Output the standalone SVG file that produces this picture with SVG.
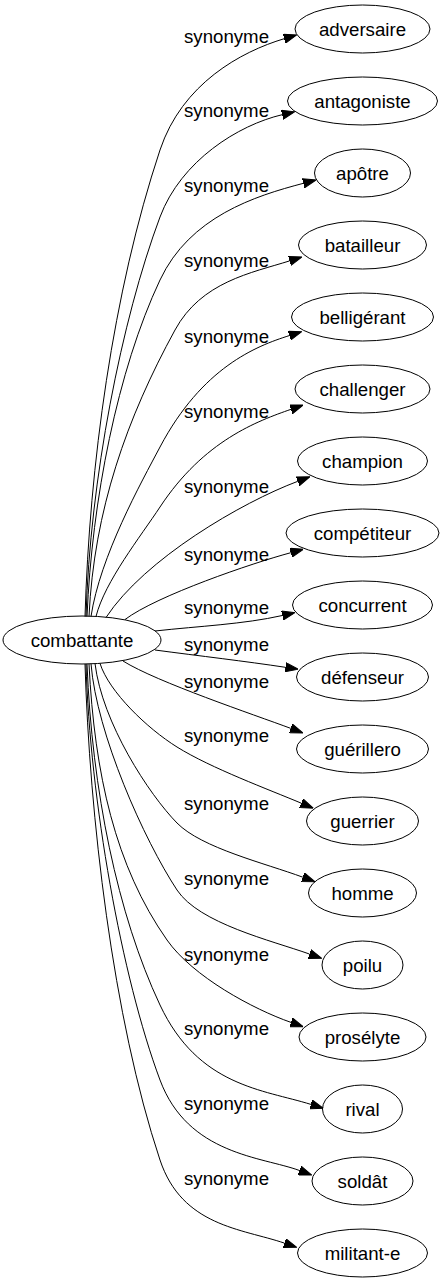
<svg xmlns="http://www.w3.org/2000/svg" width="445" height="1283" viewBox="0 0 445 1283">
<style>
.node ellipse{fill:none;stroke:#000;stroke-width:1}
text{font-family:"Liberation Sans",Arial,sans-serif;font-size:18.67px;fill:#000;text-anchor:middle}
.edges path{fill:none;stroke:#000;stroke-width:1;marker-end:url(#ah)}
</style>
<defs>
<marker id="ah" markerUnits="userSpaceOnUse" markerWidth="13" markerHeight="10" viewBox="0 0 13 10" refX="0" refY="5" orient="auto">
<path d="M0,0.33 L13,5 L0,9.67 z" fill="#000" stroke="#000" stroke-width="1"/>
</marker>
</defs>
<rect x="0" y="0" width="445" height="1283" fill="#fff"/>
<g id="edges" class="edges">
<path d="M85,616.5 C89.5,466.5 112.6,292.4 160,150 C182.1,83.6 241.1,51.6 284.2,38.7"/>
<path d="M86,616.5 C90,480 121.5,320 160,217 C181,160.8 238.4,124.9 282.2,114.7"/>
<path d="M87,616.5 C92,500 117.4,370.5 160,280 C189.8,216.6 255,196 303.4,183.3"/>
<path d="M89,616.5 C94,510 127,417.8 175,330 C201.3,281.7 251.4,272.9 289.6,260.9"/>
<path d="M91,616.5 C100,556.5 141.3,482.3 160,447 C202.1,367.5 255.9,346.1 289.3,335.6"/>
<path d="M96,616.5 C104.8,581.5 140.8,536.2 160,507 C204,440.2 258,420.9 291,409.3"/>
<path d="M106,617.5 C144.5,559 241.6,502.4 297.8,481.3"/>
<path d="M125,619.5 C157,595.5 252.2,563.1 290.8,552.7"/>
<path d="M155,631 C200,626 243.3,624.3 282.3,615.5"/>
<path d="M155,650 C200,656 245.8,661.3 285.4,667.3"/>
<path d="M123,661 C157,682.2 253.4,714.4 290.8,728.4"/>
<path d="M100,663.4 C109,691.9 147.3,728.5 177,747 C211,768.2 269.1,789.6 301.3,803.2"/>
<path d="M95,663.5 C102.2,722.9 149,794.4 177,823 C201.5,848 265.3,863.3 302.8,877.2"/>
<path d="M91,663.7 C96.6,733.7 144,839.9 177,890 C199,923.4 271.7,940.6 309.4,954"/>
<path d="M89,664 C94.5,774 115.3,866.4 167,940 C192.9,976.8 253.3,1009.2 291,1022.4"/>
<path d="M87,664 C92,790 117.4,914.5 160,1005 C198.3,1086.5 263.2,1089.5 310.9,1104.4"/>
<path d="M86,664 C90,800 121.5,976.9 160,1080 C188,1155 262,1156.7 299.5,1170.5"/>
<path d="M85,664 C89.5,815 112.6,1017.7 160,1160 C182.1,1226.4 241.8,1228.6 284.4,1243.1"/>
<g id="edge-labels">
<text x="226.5" y="43">synonyme</text>
<text x="226.5" y="117">synonyme</text>
<text x="226.5" y="192">synonyme</text>
<text x="226.5" y="267">synonyme</text>
<text x="226.5" y="343">synonyme</text>
<text x="226.5" y="418">synonyme</text>
<text x="226.5" y="493">synonyme</text>
<text x="226.5" y="561">synonyme</text>
<text x="226.5" y="614">synonyme</text>
<text x="226.5" y="651">synonyme</text>
<text x="226.5" y="688">synonyme</text>
<text x="226.5" y="742">synonyme</text>
<text x="226.5" y="810">synonyme</text>
<text x="226.5" y="885">synonyme</text>
<text x="226.5" y="961">synonyme</text>
<text x="226.5" y="1035">synonyme</text>
<text x="226.5" y="1110">synonyme</text>
<text x="226.5" y="1185">synonyme</text>
</g>
</g>
<g id="n-combattante" class="node"><ellipse cx="82" cy="640" rx="79" ry="24"/><text x="82" y="646.5">combattante</text></g>
<g id="n-adversaire" class="node"><ellipse cx="362.5" cy="29" rx="67.5" ry="24"/><text x="362.5" y="35.5">adversaire</text></g>
<g id="n-antagoniste" class="node"><ellipse cx="362.5" cy="101" rx="75" ry="24"/><text x="362.5" y="107.5">antagoniste</text></g>
<g id="n-apotre" class="node"><ellipse cx="362.5" cy="173" rx="48" ry="24"/><text x="362.5" y="179.5">apôtre</text></g>
<g id="n-batailleur" class="node"><ellipse cx="362.5" cy="245" rx="64" ry="24"/><text x="362.5" y="251.5">batailleur</text></g>
<g id="n-belligerant" class="node"><ellipse cx="362.5" cy="317" rx="71" ry="24"/><text x="362.5" y="323.5">belligérant</text></g>
<g id="n-challenger" class="node"><ellipse cx="362.5" cy="389" rx="67.5" ry="24"/><text x="362.5" y="395.5">challenger</text></g>
<g id="n-champion" class="node"><ellipse cx="362.5" cy="461" rx="65" ry="24"/><text x="362.5" y="467.5">champion</text></g>
<g id="n-competiteur" class="node"><ellipse cx="362.5" cy="533" rx="76.5" ry="24"/><text x="362.5" y="539.5">compétiteur</text></g>
<g id="n-concurrent" class="node"><ellipse cx="362.5" cy="605" rx="70" ry="24"/><text x="362.5" y="611.5">concurrent</text></g>
<g id="n-defenseur" class="node"><ellipse cx="362.5" cy="677" rx="66" ry="24"/><text x="362.5" y="683.5">défenseur</text></g>
<g id="n-guerillero" class="node"><ellipse cx="362.5" cy="749" rx="66" ry="24"/><text x="362.5" y="755.5">guérillero</text></g>
<g id="n-guerrier" class="node"><ellipse cx="362.5" cy="821" rx="56" ry="24"/><text x="362.5" y="827.5">guerrier</text></g>
<g id="n-homme" class="node"><ellipse cx="362.5" cy="893" rx="54" ry="24"/><text x="362.5" y="899.5">homme</text></g>
<g id="n-poilu" class="node"><ellipse cx="362.5" cy="965" rx="40.5" ry="24"/><text x="362.5" y="971.5">poilu</text></g>
<g id="n-proselyte" class="node"><ellipse cx="362.5" cy="1037" rx="63.5" ry="24"/><text x="362.5" y="1043.5">prosélyte</text></g>
<g id="n-rival" class="node"><ellipse cx="362.5" cy="1109" rx="40" ry="24"/><text x="362.5" y="1115.5">rival</text></g>
<g id="n-soldat" class="node"><ellipse cx="362.5" cy="1181" rx="50.5" ry="24"/><text x="362.5" y="1187.5">soldât</text></g>
<g id="n-militant-e" class="node"><ellipse cx="362.5" cy="1253" rx="65" ry="24"/><text x="362.5" y="1259.5">militant-e</text></g>
</svg>
